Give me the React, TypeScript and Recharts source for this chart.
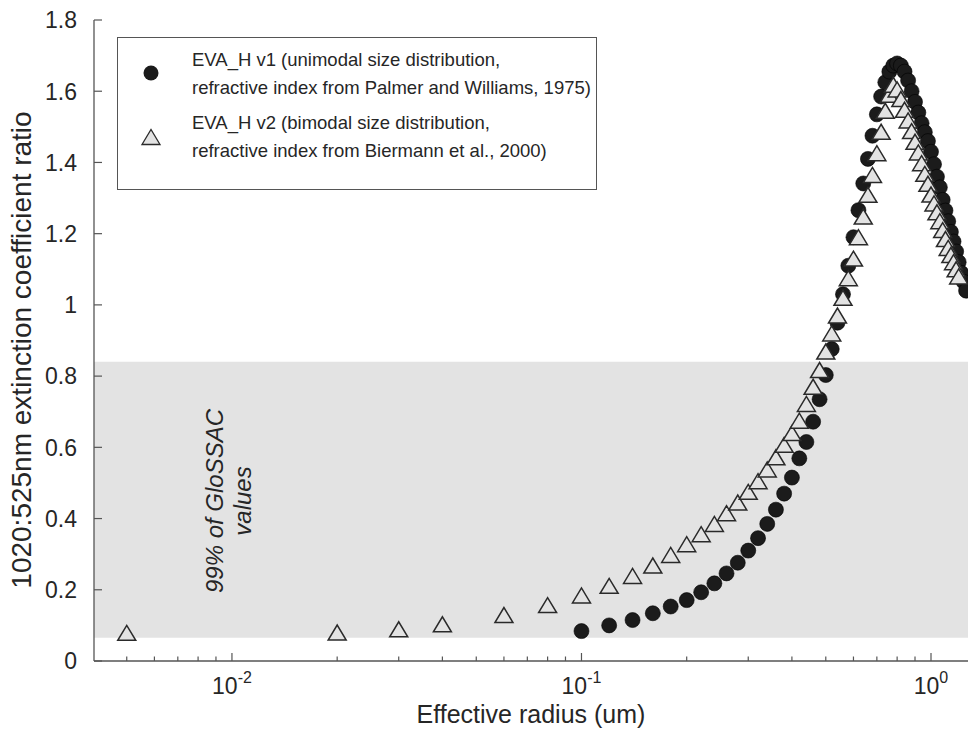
import { ScatterChart, Scatter, XAxis, YAxis, ReferenceArea } from "recharts";

const FONT = '"Liberation Sans", Arial, sans-serif';
const INK = "#262626";

// EVA_H v1 (unimodal)
const radiusV1 = [
  0.1, 0.12, 0.14, 0.16, 0.18, 0.2, 0.22, 0.24, 0.26, 0.28,
  0.3, 0.32, 0.34, 0.36, 0.38, 0.4, 0.42, 0.44, 0.46, 0.48,
  0.5, 0.52, 0.54, 0.56, 0.58, 0.6, 0.62, 0.64, 0.66, 0.68,
  0.7, 0.72, 0.74, 0.76, 0.78, 0.8, 0.82, 0.84, 0.86, 0.88,
  0.9, 0.92, 0.94, 0.96, 0.98, 1.0, 1.02, 1.04, 1.06, 1.08,
  1.1, 1.12, 1.14, 1.16, 1.18, 1.2, 1.22, 1.24, 1.26,
];
const ratioV1 = [
  0.084, 0.1, 0.115, 0.134, 0.153, 0.171, 0.193, 0.218, 0.246, 0.276,
  0.31, 0.345, 0.385, 0.425, 0.47, 0.515, 0.569, 0.615, 0.672, 0.735,
  0.803, 0.876, 0.95, 1.03, 1.11, 1.19, 1.266, 1.341, 1.41, 1.475,
  1.535, 1.585, 1.625, 1.655, 1.672, 1.678, 1.672, 1.655, 1.63, 1.6,
  1.57, 1.54, 1.51, 1.485, 1.46, 1.43, 1.395, 1.36, 1.33, 1.295,
  1.265, 1.235, 1.205, 1.178, 1.15, 1.12, 1.09, 1.065, 1.04,
];

// EVA_H v2 (bimodal)
const radiusV2 = [
  0.005, 0.02, 0.03, 0.04, 0.06, 0.08,
  0.1, 0.12, 0.14, 0.16, 0.18, 0.2, 0.22, 0.24, 0.26, 0.28,
  0.3, 0.32, 0.34, 0.36, 0.38, 0.4, 0.42, 0.44, 0.46, 0.48,
  0.5, 0.52, 0.54, 0.56, 0.58, 0.6, 0.62, 0.64, 0.66, 0.68,
  0.7, 0.72, 0.74, 0.76, 0.78, 0.8, 0.82, 0.84, 0.86, 0.88,
  0.9, 0.92, 0.94, 0.96, 0.98, 1.0, 1.02, 1.04, 1.06, 1.08,
  1.1, 1.12, 1.14, 1.16, 1.18, 1.2,
];
const ratioV2 = [
  0.079, 0.08, 0.089, 0.103, 0.129, 0.157,
  0.184, 0.211, 0.239, 0.268, 0.298, 0.328, 0.356, 0.385, 0.415, 0.445,
  0.475, 0.505, 0.538, 0.572, 0.607, 0.64, 0.675, 0.722, 0.77, 0.817,
  0.869, 0.92, 0.97, 1.02, 1.075, 1.13, 1.19, 1.248, 1.309, 1.365,
  1.426, 1.486, 1.545, 1.59, 1.618, 1.605, 1.578, 1.548, 1.518, 1.488,
  1.458, 1.428, 1.398, 1.368, 1.34, 1.31, 1.285, 1.26, 1.235, 1.21,
  1.185, 1.16, 1.14, 1.12, 1.1, 1.08,
];

// shaded band: 99% of GloSSAC values
const glossacBand = [0.065, 0.84];

const xDomain = [0.00403, 1.276];
const xTicks = [
  0.005, 0.006, 0.007, 0.008, 0.009, 0.01,
  0.02, 0.03, 0.04, 0.05, 0.06, 0.07, 0.08, 0.09, 0.1,
  0.2, 0.3, 0.4, 0.5, 0.6, 0.7, 0.8, 0.9, 1,
];
const yTicks = [0, 0.2, 0.4, 0.6, 0.8, 1, 1.2, 1.4, 1.6, 1.8];

const v1 = radiusV1.map((r, i) => ({ r, v: ratioV1[i] }));
const v2 = radiusV2.map((r, i) => ({ r, v: ratioV2[i] }));

const XTick = (props: any) => {
  const { x, y, payload } = props;
  const lg = Math.log10(payload.value);
  const major = Math.abs(lg - Math.round(lg)) < 1e-6;
  return (
    <g>
      <line x1={x} x2={x} y1={y} y2={y - (major ? 8 : 4.5)} stroke="#555" strokeWidth={1.2} />
      {major && (
        <text x={x} y={y + 33} textAnchor="middle" fill={INK} fontSize={23} fontFamily={FONT}>
          10
          <tspan dy={-11} fontSize={16}>{Math.round(lg)}</tspan>
        </text>
      )}
    </g>
  );
};

const YTick = (props: any) => {
  const { x, y, payload } = props;
  return (
    <g>
      <line x1={x} x2={x + 8} y1={y} y2={y} stroke="#555" strokeWidth={1.2} />
      <text x={x - 17} y={y} dy="0.36em" textAnchor="end" fill={INK} fontSize={23} fontFamily={FONT}>
        {String(payload.value)}
      </text>
    </g>
  );
};

const XLabel = () => (
  <text x={531} y={723} textAnchor="middle" fill={INK} fontSize={25} fontFamily={FONT}>
    Effective radius (um)
  </text>
);

const YLabel = () => (
  <text
    x={21}
    y={350}
    transform="rotate(-90 21 350)"
    textAnchor="middle"
    dy="0.36em"
    fill={INK}
    fontSize={28}
    fontFamily={FONT}
  >
    1020:525nm extinction coefficient ratio
  </text>
);

const DotShape = (props: any) => (
  <circle cx={props.cx} cy={props.cy} r={7.5} fill="#1b1b1b" stroke="#000" strokeWidth={0.6} />
);

const triPoints = (cx: number, cy: number) =>
  `${cx - 9},${cy + 7.5} ${cx + 9},${cy + 7.5} ${cx},${cy - 7.5}`;

const TriShape = (props: any) => (
  <polygon points={triPoints(props.cx, props.cy)} fill="#e3e3e3" stroke="#2a2a2a" strokeWidth={1.5} />
);

const legendText = {
  position: "absolute" as const,
  left: 74,
  fontSize: 18.5,
  lineHeight: "28px",
  color: INK,
  whiteSpace: "nowrap" as const,
};

export default function App() {
  return (
    <div style={{ position: "absolute", left: 0, top: 0, width: 968, height: 745, background: "#fff", fontFamily: FONT }}>
      <ScatterChart width={968} height={745} margin={{ top: 20, right: 0, bottom: 0, left: 0 }}>
        <ReferenceArea y1={glossacBand[0]} y2={glossacBand[1]} fill="#e3e3e3" fillOpacity={1} stroke="none" />
        <XAxis
          type="number"
          dataKey="r"
          scale="log"
          domain={xDomain}
          allowDataOverflow
          ticks={xTicks}
          interval={0}
          tick={<XTick />}
          tickLine={false}
          tickSize={0}
          tickMargin={0}
          height={84}
          axisLine={{ stroke: "#555", strokeWidth: 1.3 }}
          label={<XLabel />}
        />
        <YAxis
          type="number"
          dataKey="v"
          domain={[0, 1.8]}
          ticks={yTicks}
          interval={0}
          tick={<YTick />}
          tickLine={false}
          tickSize={0}
          tickMargin={0}
          width={94}
          axisLine={{ stroke: "#555", strokeWidth: 1.3 }}
          label={<YLabel />}
        />
        <Scatter data={v1} shape={DotShape} isAnimationActive={false} />
        <Scatter data={v2} shape={TriShape} isAnimationActive={false} />
      </ScatterChart>

      {/* legend box */}
      <div
        style={{
          position: "absolute",
          left: 117,
          top: 37,
          width: 478,
          height: 151,
          border: "1.5px solid #555",
          background: "#fff",
        }}
      >
        <svg width={60} height={151} style={{ position: "absolute", left: 0, top: 0 }}>
          <circle cx={33} cy={35} r={7.5} fill="#1b1b1b" />
          <polygon points={triPoints(33, 99)} fill="#e3e3e3" stroke="#2a2a2a" strokeWidth={1.3} />
        </svg>
        <div style={{ ...legendText, top: 8 }}>
          EVA_H v1 (unimodal size distribution,
          <br />
          refractive index from Palmer and Williams, 1975)
        </div>
        <div style={{ ...legendText, top: 71 }}>
          EVA_H v2 (bimodal size distribution,
          <br />
          refractive index from Biermann et al., 2000)
        </div>
      </div>

      {/* band annotation */}
      <div
        style={{
          position: "absolute",
          left: 229,
          top: 501,
          transform: "translate(-50%, -50%) rotate(-90deg)",
          fontStyle: "italic",
          fontSize: 24,
          lineHeight: "28px",
          textAlign: "center",
          whiteSpace: "nowrap",
          color: INK,
        }}
      >
        99% of GloSSAC
        <br />
        values
      </div>
    </div>
  );
}
